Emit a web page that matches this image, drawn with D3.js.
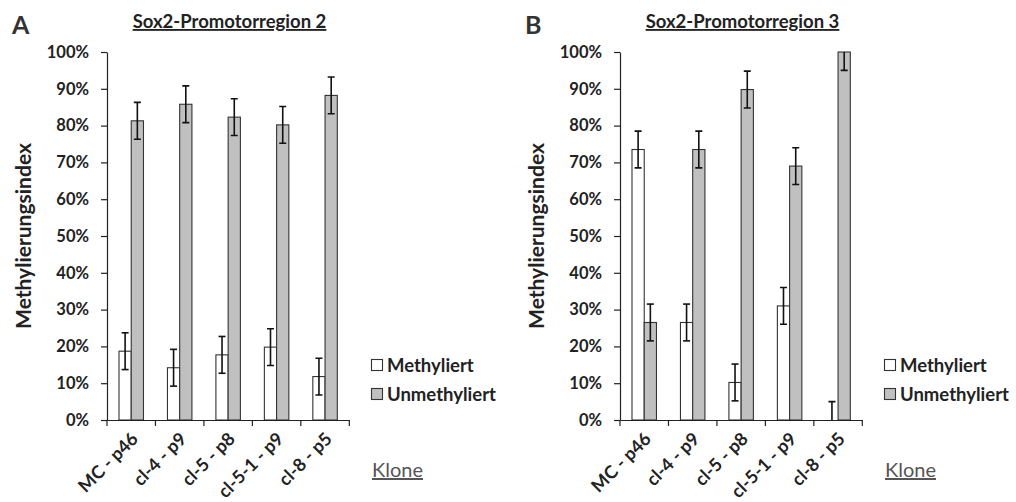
<!DOCTYPE html>
<html><head><meta charset="utf-8">
<script src="https://cdn.jsdelivr.net/npm/d3@7"></script>
<style>body{margin:0;background:#fff;} svg{display:block;}</style>
</head><body>
<svg id="c" width="1016" height="502"></svg>
<script>
const categories = ["MC - p46", "cl-4 - p9", "cl-5 - p8", "cl-5-1 - p9", "cl-8 - p5"];
const seriesNames = ["Methyliert", "Unmethyliert"];
const titles = ["Sox2-Promotorregion 2", "Sox2-Promotorregion 3"];
const panelLetters = ["A", "B"];
// Panel A
const methA = [18.7, 14.2, 17.7, 19.8, 11.8];
const unmethA = [81.3, 85.8, 82.3, 80.2, 88.2];
const errA = [5, 5, 5, 5, 5];
// Panel B
const methB = [73.5, 26.5, 10.2, 31.0, 0];
const unmethB = [26.5, 73.5, 89.8, 69.0, 100];
const errB = [5, 5, 5, 5, 5];
const yTicks = [0, 10, 20, 30, 40, 50, 60, 70, 80, 90, 100];
const yLabel = "Methylierungsindex";
const xLabel = "Klone";

const colors = ["#ffffff", "#c0c0c0"];
const FONT = "Lato, 'Open Sans', sans-serif";
const svg = d3.select("#c");

function panel(ox, letter, title, meth, unmeth, err) {
  const g = svg.append("g").attr("transform", `translate(${ox},0)`);
  const x0 = 107, x1 = 349.3, yTop = 52, yBot = 420;
  const x = d3.scaleBand().domain(categories).range([x0, x1]).paddingInner(0).paddingOuter(0);
  const xs = d3.scaleBand().domain(seriesNames).range([0, x.bandwidth()]).paddingInner(0).paddingOuter(0.98);
  const y = d3.scaleLinear().domain([0, 100]).range([yBot, yTop]);

  // y axis
  const ya = g.append("g").attr("transform", `translate(${x0},0)`)
    .call(d3.axisLeft(y).tickValues(yTicks).tickFormat(d => d + "%").tickSize(6).tickSizeOuter(0));
  ya.select(".domain").attr("stroke", "#222").attr("stroke-width", 1.2);
  ya.selectAll(".tick line").attr("stroke", "#222").attr("stroke-width", 1.2);
  ya.selectAll(".tick text").attr("font-family", FONT).attr("font-weight", "bold")
    .attr("font-size", 16.5).attr("fill", "#222").attr("x", -18);

  // bars
  const data = [meth, unmeth];
  const clipId = "clip" + letter;
  g.append("clipPath").attr("id", clipId).append("rect")
    .attr("x", x0).attr("y", yTop).attr("width", x1 - x0).attr("height", yBot - yTop);
  seriesNames.forEach((s, si) => {
    const vals = data[si];
    g.selectAll(null).data(categories).enter().append("rect")
      .attr("x", c => x(c) + xs(s))
      .attr("y", (c, i) => y(vals[i]))
      .attr("width", xs.bandwidth())
      .attr("height", (c, i) => y(0) - y(vals[i]))
      .attr("fill", colors[si]).attr("stroke", "#333").attr("stroke-width", 1.1);
  });
  // error bars
  const eg = g.append("g").attr("clip-path", `url(#${clipId})`);
  seriesNames.forEach((s, si) => {
    const vals = data[si];
    categories.forEach((c, i) => {
      const cx = x(c) + xs(s) + xs.bandwidth() / 2;
      const lo = y(vals[i] - err[i]), hi = y(vals[i] + err[i]);
      eg.append("line").attr("x1", cx).attr("x2", cx).attr("y1", lo).attr("y2", hi)
        .attr("stroke", "#111").attr("stroke-width", 1.6);
      [lo, hi].forEach(yy => eg.append("line").attr("x1", cx - 3.5).attr("x2", cx + 3.5)
        .attr("y1", yy).attr("y2", yy).attr("stroke", "#111").attr("stroke-width", 1.6));
    });
  });

  // x axis
  const xa = g.append("g").attr("transform", `translate(0,${yBot})`)
    .call(d3.axisBottom(x).tickSize(0).tickFormat(""));
  xa.select(".domain").attr("stroke", "#222").attr("stroke-width", 1.2);
  const edges = categories.map(c => x(c)).concat([x1]);
  xa.selectAll(".edge").data(edges).enter().append("line").attr("class", "edge")
    .attr("x1", d => d).attr("x2", d => d).attr("y1", 0).attr("y2", 6)
    .attr("stroke", "#222").attr("stroke-width", 1.2);
  xa.selectAll(".lbl").data(categories).enter().append("text").attr("class", "lbl")
    .attr("transform", c => `translate(${x(c) + x.bandwidth() / 2 + 8},${20}) rotate(-45)`)
    .attr("text-anchor", "end").attr("font-family", FONT).attr("font-weight", "bold")
    .attr("font-size", 18).attr("fill", "#222").text(c => c);

  // y label
  g.append("text").attr("transform", `translate(31,${(yTop + yBot) / 2}) rotate(-90)`)
    .attr("text-anchor", "middle").attr("font-family", FONT).attr("font-weight", "bold")
    .attr("font-size", 21).attr("fill", "#222").text(yLabel);

  // title
  g.append("text").attr("x", 229.5).attr("y", 28).attr("text-anchor", "middle")
    .attr("font-family", FONT).attr("font-weight", "bold").attr("font-size", 18.5)
    .attr("fill", "#222").attr("text-decoration", "underline").text(title);

  // letter
  g.append("text").attr("x", 12).attr("y", 34).attr("font-family", FONT).attr("font-weight", "bold")
    .attr("font-size", 25).attr("fill", "#333").text(letter);

  // legend
  seriesNames.forEach((s, si) => {
    const ly = 365 + si * 29;
    g.append("rect").attr("x", 371.5).attr("y", ly - 5.5).attr("width", 11).attr("height", 11)
      .attr("fill", colors[si]).attr("stroke", "#333").attr("stroke-width", 1.1);
    g.append("text").attr("x", 387).attr("y", ly + 6.5).attr("font-family", FONT)
      .attr("font-weight", "bold").attr("font-size", 18.5).attr("fill", "#222").text(s);
  });
  g.append("text").attr("x", 372).attr("y", 477).attr("font-family", FONT)
    .attr("font-size", 20).attr("fill", "#555").attr("text-decoration", "underline").text(xLabel);
}

panel(0, panelLetters[0], titles[0], methA, unmethA, errA);
panel(513, panelLetters[1], titles[1], methB, unmethB, errB);
</script>
</body></html>
